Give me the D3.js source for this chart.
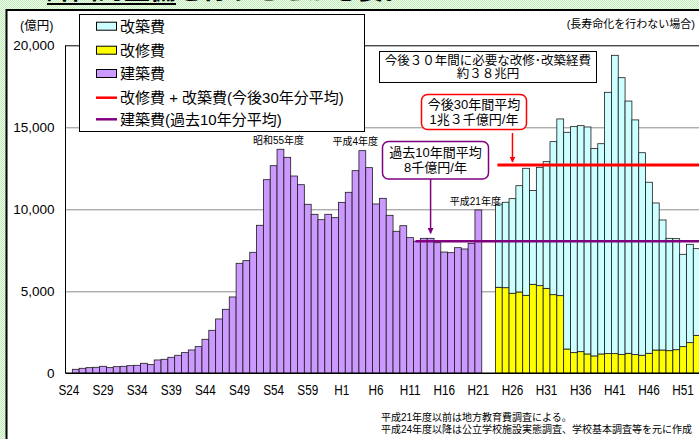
<!DOCTYPE html>
<html lang="ja">
<head>
<meta charset="UTF-8">
<title>改築・改修経費の推計</title>
<style>
  html, body { margin: 0; padding: 0; background: #fff; }
  svg { display: block; }
  text { font-family: "Liberation Sans", "Noto Sans CJK JP", sans-serif; }
</style>
</head>
<body>
<svg id="chart" width="699" height="439"></svg>
<script src="https://d3js.org/d3.v7.min.js"></script>
<script>
// categories: fiscal years S24 (1949) .. H53 (2041)
const firstYear = 1949, lastYear = 2041;
const eraLabel = y => y <= 1988 ? "S" + (y - 1925) : "H" + (y - 1988);
const categories = d3.range(firstYear, lastYear + 1).map(eraLabel);
const tickLabels = ["S24","S29","S34","S39","S44","S49","S54","S59","H1","H6",
                    "H11","H16","H21","H26","H31","H36","H41","H46","H51"];
const yTicks = [0, 5000, 10000, 15000, 20000];

// 建築費 S24..H21 (億円)
const constructionYears = categories.slice(0, 61);
const construction = [null, 244, 305, 345, 366, 427, 345, 405, 427, 467,
  488, 610, 528, 813, 854, 976, 1098, 1260, 1423, 1626,
  2073, 2622, 3313, 3903, 4655, 6708, 6870, 7378, 9025, 11806,
  12660, 13660, 13170, 12030, 11500, 10305, 9695, 9367, 9695, 9490,
  10425, 11037, 12355, 13575, 12540, 10325, 10670, 9635, 8660, 9000,
  8270, 8050, 8230, 8230, 7965, 7395, 7355, 7660, 7580, 7925, 9960];

// 改修費 / 改築費 H24..H53 (億円)
const projectionYears = categories.slice(63);
const renovation = [5245, 5220, 4880, 4960, 4755, 5425, 5345, 5180, 4795, 4735,
  1480, 1260, 1320, 1180, 1060, 1180, 1200, 1200, 1140, 1220,
  1140, 1100, 1220, 1420, 1420, 1380, 1440, 1625, 1870, 2315];
const rebuild = [5075, 5210, 5770, 6480, 7745, 5715, 7215, 7725, 9330, 10775,
  13215, 13780, 13780, 13840, 12640, 12820, 15935, 18190, 16885, 15380,
  14310, 12350, 10430, 8965, 7930, 6850, 6770, 5630, 5995, 5285];

// averages
const futureAverage = 12700;   // 改修費+改築費 今後30年分平均
const futureStart = "H24";
const pastAverage = 8050;      // 建築費 過去10年分平均
const pastStart = "H12";

const legendItems = [
  {label: "改築費", type: "rect", color: "#ccffff"},
  {label: "改修費", type: "rect", color: "#ffff00"},
  {label: "建築費", type: "rect", color: "#cc99ff"},
  {label: "改修費 + 改築費(今後30年分平均)", type: "line", color: "#ff0000"},
  {label: "建築費(過去10年分平均)", type: "line", color: "#800080"}
];

const svg = d3.select("#chart");
const defs = svg.append("defs");

// dotted green page background
const pat = defs.append("pattern").attr("id", "dots")
  .attr("width", 2).attr("height", 2).attr("patternUnits", "userSpaceOnUse");
pat.append("rect").attr("width", 2).attr("height", 2).attr("fill", "#f2fcef");
pat.append("rect").attr("width", 1).attr("height", 1).attr("fill", "#bdeeb6");
pat.append("rect").attr("x", 1).attr("y", 1).attr("width", 1).attr("height", 1).attr("fill", "#bdeeb6");

["red", "purple"].forEach((name, i) => {
  defs.append("marker").attr("id", "arrow-" + name)
    .attr("viewBox", "0 0 10 10").attr("refX", 9).attr("refY", 5)
    .attr("markerWidth", 4).attr("markerHeight", 4).attr("orient", "auto")
    .append("path").attr("d", "M0,0L10,5L0,10Z")
    .attr("fill", i === 0 ? "#ff0000" : "#800080");
});

svg.append("rect").attr("width", 699).attr("height", 439).attr("fill", "url(#dots)");

// title (only its lower edge shows above the frame)
svg.append("text").attr("x", 46).attr("y", -1.5)
  .style("font-family", "'Noto Sans CJK JP'").style("font-size", "26px").style("font-weight", "bold")
  .text("計画的整備を行うことが必要。");
svg.append("rect").attr("x", 47).attr("y", 3).attr("width", 129).attr("height", 2).attr("fill", "#000");

// frame
svg.append("rect").attr("x", 6.5).attr("y", 10).attr("width", 800).attr("height", 500)
  .attr("fill", "#fff").attr("stroke", "#000").attr("stroke-width", 2);

const plotLeft = 65.5, plotTop = 45.3, plotBottom = 373.3, bandW = 6.824;

const x = d3.scaleBand().domain(categories)
  .range([plotLeft, plotLeft + categories.length * bandW]).padding(0);
const y = d3.scaleLinear().domain([0, 20000]).range([plotBottom, plotTop]);

// gridlines
svg.append("g").attr("transform", `translate(${plotLeft},0)`)
  .call(d3.axisLeft(y).tickValues(yTicks.slice(1)).tickSize(-700).tickFormat(""))
  .call(g => g.select(".domain").remove())
  .call(g => g.selectAll("line").attr("stroke", d => d === 20000 ? "#000" : "#8c8c8c"));

// y tick labels
svg.append("g").attr("transform", `translate(${plotLeft},0)`)
  .call(d3.axisLeft(y).tickValues(yTicks).tickSize(0).tickPadding(11).tickFormat(d3.format(",")))
  .call(g => g.select(".domain").remove())
  .call(g => g.selectAll("text").style("font-size", "13.5px").attr("fill", "#000")
    .style("font-family", "'Liberation Sans'"));

// 建築費 bars
const constructionRows = constructionYears.map((c, i) => ({c, v: construction[i]}))
  .filter(d => d.v != null);
svg.append("g").selectAll("rect").data(constructionRows).join("rect")
  .attr("x", d => x(d.c)).attr("width", x.bandwidth())
  .attr("y", d => y(d.v)).attr("height", d => y(0) - y(d.v))
  .attr("fill", "#cc99ff").attr("stroke", "#1a1a1a").attr("stroke-width", 0.8);

// 改修費 + 改築費 stacked bars
const projRows = projectionYears.map((c, i) => ({c, renovation: renovation[i], rebuild: rebuild[i]}));
const stack = d3.stack().keys(["renovation", "rebuild"])(projRows);
const stackColors = {renovation: "#ffff00", rebuild: "#ccffff"};
svg.append("g").selectAll("g").data(stack).join("g")
  .attr("fill", d => stackColors[d.key])
  .selectAll("rect").data(d => d).join("rect")
  .attr("x", d => x(d.data.c)).attr("width", x.bandwidth())
  .attr("y", d => y(d[1])).attr("height", d => y(d[0]) - y(d[1]))
  .attr("stroke", "#1a1a1a").attr("stroke-width", 0.8);

// axes lines
svg.append("line").attr("x1", plotLeft).attr("x2", plotLeft).attr("y1", plotTop).attr("y2", plotBottom)
  .attr("stroke", "#000");
svg.append("line").attr("x1", plotLeft).attr("x2", 699).attr("y1", plotBottom).attr("y2", plotBottom)
  .attr("stroke", "#000").attr("stroke-width", 1.5);

// x tick labels
svg.append("g").attr("transform", `translate(0,${plotBottom})`)
  .call(d3.axisBottom(x).tickValues(tickLabels).tickSize(0).tickPadding(12))
  .call(g => g.select(".domain").remove())
  .call(g => g.selectAll("text").style("font-size", "14px").attr("fill", "#000")
    .style("font-family", "'Liberation Sans'")
    .each(function() {
      const w = this.getComputedTextLength();
      d3.select(this).attr("textLength", w * 0.84).attr("lengthAdjust", "spacingAndGlyphs");
    }));

// average lines
svg.append("line").attr("x1", x(futureStart) + 2).attr("x2", 699)
  .attr("y1", y(futureAverage)).attr("y2", y(futureAverage))
  .attr("stroke", "#ff0000").attr("stroke-width", 3);
svg.append("line").attr("x1", x(pastStart) + 2).attr("x2", 699)
  .attr("y1", y(pastAverage)).attr("y2", y(pastAverage))
  .attr("stroke", "#800080").attr("stroke-width", 2.5);

// arrows
const redX = x("H26") + x.bandwidth() / 2, purpleX = x("H14") + x.bandwidth() / 2;
svg.append("line").attr("x1", redX).attr("x2", redX).attr("y1", 133).attr("y2", y(futureAverage) - 3)
  .attr("stroke", "#ff0000").attr("stroke-width", 1.5).attr("marker-end", "url(#arrow-red)");
svg.append("line").attr("x1", purpleX).attr("x2", purpleX).attr("y1", 179).attr("y2", y(pastAverage) - 8)
  .attr("stroke", "#800080").attr("stroke-width", 1.5).attr("marker-end", "url(#arrow-purple)");

// text annotations
function box(x0, y0, w, h, stroke, rx, lines, size, lh) {
  svg.append("rect").attr("x", x0).attr("y", y0).attr("width", w).attr("height", h)
    .attr("rx", rx).attr("fill", "#fff").attr("stroke", stroke).attr("stroke-width", rx ? 1.5 : 1);
  lines.forEach((t, i) => svg.append("text")
    .attr("x", x0 + w / 2).attr("y", y0 + h / 2 + (i - (lines.length - 1) / 2) * lh)
    .attr("dy", "0.36em").attr("text-anchor", "middle").style("font-size", size + "px").text(t));
}
box(379.5, 51.5, 217, 31, "#000", 0, ["今後３０年間に必要な改修･改築経費", "約３８兆円"], 12.5, 12.5);
box(421.5, 94.5, 105, 35, "#ff0000", 6, ["今後30年間平均", "1兆３千億円/年"], 13, 15);
box(382.5, 141.5, 106, 37.5, "#800080", 6, ["過去10年間平均", "8千億円/年"], 13, 15);

const peakLabels = [
  {c: "S55", t: "昭和55年度", dx: -2, v: 13660},
  {c: "H4", t: "平成4年度", dx: -7, v: 13575},
  {c: "H21", t: "平成21年度", dx: -3, v: 9960}
];
svg.append("g").selectAll("text").data(peakLabels).join("text")
  .attr("x", d => x(d.c) + x.bandwidth() / 2 + d.dx).attr("y", d => y(d.v) - 9)
  .attr("dy", "0.36em").attr("text-anchor", "middle").style("font-size", "10px").text(d => d.t);

svg.append("text").attr("x", 20).attr("y", 25).attr("dy", "0.36em").style("font-size", "12.5px").text("(億円)");
svg.append("text").attr("x", 695).attr("y", 24).attr("dy", "0.36em").attr("text-anchor", "end")
  .style("font-size", "11px").text("(長寿命化を行わない場合)");

// legend
const legend = svg.append("g");
legend.append("rect").attr("x", 79.5).attr("y", 14.5).attr("width", 285).attr("height", 117)
  .attr("fill", "#fff").attr("stroke", "#000");
const rowY = [26.7, 50.7, 74, 97.7, 119.3];
legendItems.forEach((d, i) => {
  if (d.type === "rect") {
    legend.append("rect").attr("x", 96.5).attr("y", rowY[i] - 4.5).attr("width", 20).attr("height", 8)
      .attr("fill", d.color).attr("stroke", "#000");
  } else {
    legend.append("line").attr("x1", 96).attr("x2", 117).attr("y1", rowY[i]).attr("y2", rowY[i])
      .attr("stroke", d.color).attr("stroke-width", 2.5);
  }
  legend.append("text").attr("x", 120).attr("y", rowY[i]).attr("dy", "0.36em")
    .style("font-size", "15px").text(d.label);
});

// source notes
svg.append("text").attr("x", 381).attr("y", 417.5).attr("dy", "0.36em").style("font-size", "10px")
  .text("平成21年度以前は地方教育費調査による。");
svg.append("text").attr("x", 381).attr("y", 429).attr("dy", "0.36em").style("font-size", "10px")
  .text("平成24年度以降は公立学校施設実態調査、学校基本調査等を元に作成");
</script>
</body>
</html>
